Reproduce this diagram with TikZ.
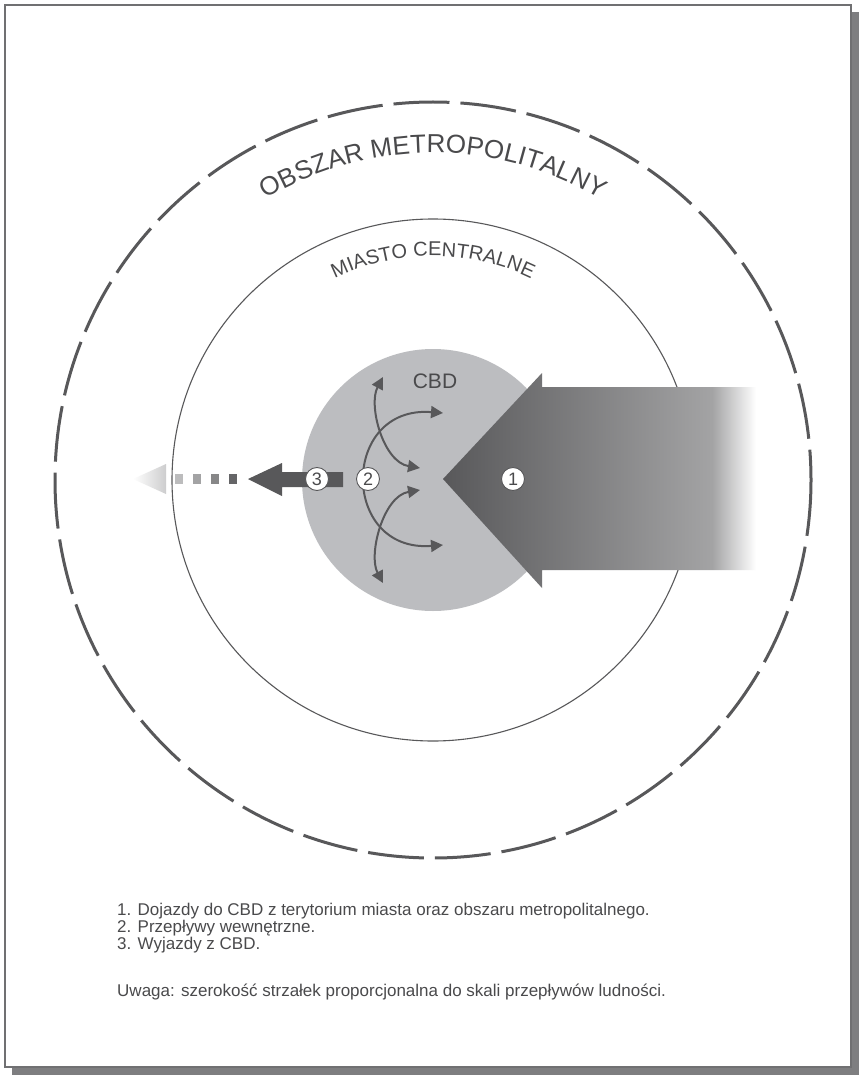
\documentclass[tikz,border=0pt]{standalone}
\usepackage{fontspec}
\setmainfont{Liberation Sans}
\usetikzlibrary{arrows.meta,decorations.text,positioning}

\definecolor{ciemny}{HTML}{58585A}
\definecolor{tekst}{HTML}{4A4A4C}
\definecolor{cbd}{HTML}{BCBDC0}
\definecolor{cien}{HTML}{7E7E80}
\definecolor{ramka}{HTML}{707072}

% cieniowanie strzalki dojazdow
\pgfdeclarehorizontalshading{dojazd}{100bp}{color(0bp)=(ciemny); color(25bp)=(ciemny); color(68bp)=(ciemny!55!white); color(75bp)=(white); color(100bp)=(white)}

\tikzset{
  numer/.style={circle, draw=ciemny, line width=0.9pt, fill=white, minimum size=23pt, inner sep=0pt, text=tekst, font=\fontsize{18}{18}\selectfont},
  przeplyw/.style={draw=ciemny, line width=2pt, {Triangle[length=12pt,width=12pt]}-{Triangle[length=12pt,width=12pt]}},
  kwadrat/.style={minimum width=8pt, minimum height=10pt, inner sep=0pt}
}

\begin{document}
\begin{tikzpicture}[x=1pt, y=-1pt]
	\useasboundingbox (0,0) rectangle (859,1075);
	
	% Ramka z cieniem
	\fill[cien] (12,12) rectangle (859,1075);
	\draw[ramka, line width=1.5pt, fill=white] (5,5) rectangle (851,1067);
	
	% Obszar metropolitalny
	\coordinate (S) at (433,480);
	\draw[ciemny, line width=3pt, dash pattern=on 56pt off 11pt] (S) circle [radius=378];
	\path[decorate, decoration={text along path, text align=center,
	  text={|\fontsize{26}{26}\selectfont\color{tekst}|OBSZAR METROPOLITALNY}}]
	  (S) ++(200:327) arc [start angle=200, end angle=340, radius=327];
	
	% Miasto centralne
	\draw[ciemny, line width=1.1pt] (S) circle [radius=261];
	\path[decorate, decoration={text along path, text align=center,
	  text={|\fontsize{20}{20}\selectfont\color{tekst}|MIASTO CENTRALNE}}]
	  (S) ++(214:224) arc [start angle=214, end angle=326, radius=224];
	
	% CBD
	\fill[cbd] (S) circle [radius=131];
	\node[text=tekst, font=\fontsize{21}{21}\selectfont] (CBD) at (435,381) {CBD};
	
	% Strzalka 1 - dojazdy
	\shade[shading=dojazd] (443,479) -- (542,373) -- (542,387) -- (756,387) -- (756,570)
	  -- (542,570) -- (542,588) -- cycle;
	
	% Strzalka 3 - wyjazdy
	\fill[ciemny] (248,479) -- (282,463) -- (282,472) -- (343,472) -- (343,487)
	  -- (282,487) -- (282,496) -- cycle;
	\node[kwadrat, fill=ciemny!40!white] (k1) at (179,479) {};
	\node[kwadrat, fill=ciemny!55!white] (k2) at (197,479) {};
	\node[kwadrat, fill=ciemny!72!white] (k3) at (215,479) {};
	\node[kwadrat, fill=ciemny!92!white] (k4) at (233,479) {};
	\shade[left color=white, right color=ciemny!30!white] (133,479) -- (166,464) -- (166,494) -- cycle;
	
	% Przeplywy wewnetrzne
	\coordinate (a1) at (383,377);
	\coordinate (a2) at (420,468);
	\coordinate (b1) at (443,413);
	\coordinate (b2) at (443,545);
	\coordinate (c1) at (420,490);
	\coordinate (c2) at (383,583);
	\draw[przeplyw] (a1) .. controls (368,405) and (383,462) .. (a2);
	\draw[przeplyw] (b1) .. controls (340,405) and (340,553) .. (b2);
	\draw[przeplyw] (c1) .. controls (383,496) and (368,555) .. (c2);
	
	% Numery
	\node[numer] (n1) at (513,479) {1};
	\node[numer] (n2) at (368,479) {2};
	\node[numer] (n3) at (317,479) {3};
	
	% Legenda
	\node[anchor=north west, align=left, text=tekst, inner sep=0pt,
	  font=\fontsize{17}{17}\selectfont] (leg) at (117,903)
	  {1. Dojazdy do CBD z terytorium miasta oraz obszaru metropolitalnego.\\
	   2. Przepływy wewnętrzne.\\
	   3. Wyjazdy z CBD.};
	\node[anchor=north west, text=tekst, inner sep=0pt,
	  font=\fontsize{17}{17}\selectfont] (uwaga) at (117,984)
	  {Uwaga: szerokość strzałek proporcjonalna do skali przepływów ludności.};
	
\end{tikzpicture}
\end{document}
